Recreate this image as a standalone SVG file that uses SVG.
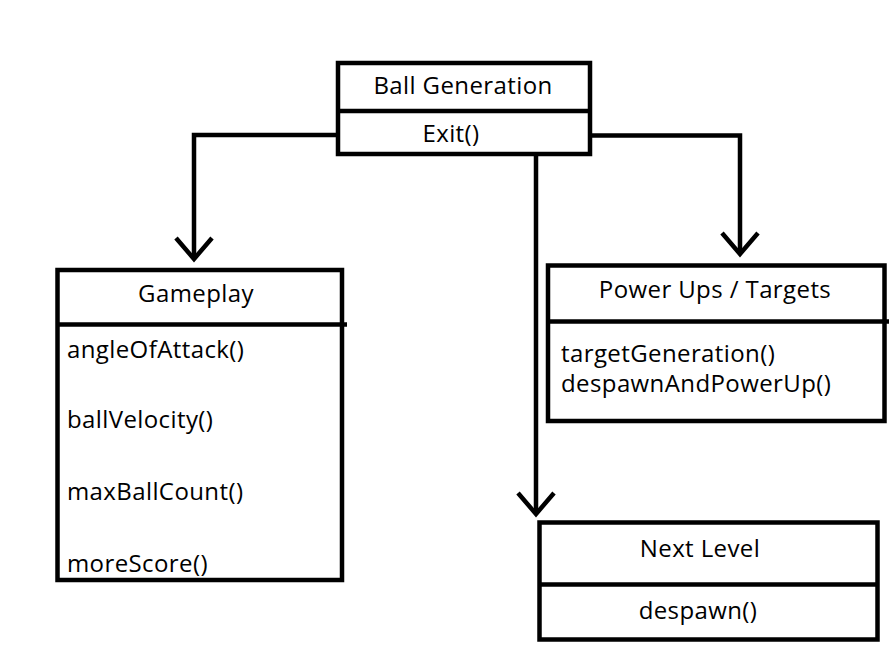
<svg xmlns="http://www.w3.org/2000/svg" width="893" height="665" viewBox="0 0 893 665">
<style>
.box{fill:#fff;stroke:#000;stroke-width:4.5}
.div{stroke:#000;stroke-width:4.5;fill:none}
.con{stroke:#000;stroke-width:4.5;fill:none}
text{font-family:"Open Sans","Noto Sans","Liberation Sans",sans-serif;font-size:24px;letter-spacing:0.4px;fill:#000}
.c{text-anchor:middle}
</style>
<defs>
<marker id="v" markerUnits="userSpaceOnUse" viewBox="-26 -22 30 44" markerWidth="30" markerHeight="44" refX="0" refY="0" orient="auto" overflow="visible">
<path d="M-21,-18 L0,0 L-21,18" fill="none" stroke="#000" stroke-width="4.5" stroke-linejoin="miter"/>
</marker>
</defs>
<rect width="893" height="665" fill="#fff"/>
<g id="connectors">
<path class="con" d="M338,135 H194 V259" marker-end="url(#v)"/>
<path class="con" d="M590,135.5 H740 V254" marker-end="url(#v)"/>
<path class="con" d="M536,156 V514" marker-end="url(#v)"/>
</g>
<g id="ball-generation">
<rect class="box" x="338" y="63" width="252" height="91"/>
<line class="div" x1="338" y1="111" x2="590" y2="111"/>
<text class="c" x="463" y="94">Ball Generation</text>
<text class="c" x="451" y="142">Exit()</text>
</g>
<g id="gameplay">
<rect class="box" x="57.5" y="270" width="284.5" height="310"/>
<line class="div" x1="57.5" y1="324.5" x2="347" y2="324.5"/>
<text class="c" x="196" y="302">Gameplay</text>
<text x="67" y="358">angleOfAttack()</text>
<text x="67" y="428">ballVelocity()</text>
<text x="67" y="500">maxBallCount()</text>
<text x="67" y="572">moreScore()</text>
</g>
<g id="power-ups">
<rect class="box" x="548" y="265.5" width="336.5" height="155.5"/>
<line class="div" x1="548" y1="321.5" x2="889" y2="321.5"/>
<text class="c" x="715" y="298">Power Ups / Targets</text>
<text x="561" y="362">targetGeneration()</text>
<text x="561" y="392">despawnAndPowerUp()</text>
</g>
<g id="next-level">
<rect class="box" x="539.5" y="522.5" width="338" height="117"/>
<line class="div" x1="539.5" y1="584.5" x2="877.5" y2="584.5"/>
<text class="c" x="700" y="557">Next Level</text>
<text class="c" x="698" y="619">despawn()</text>
</g>
</svg>
